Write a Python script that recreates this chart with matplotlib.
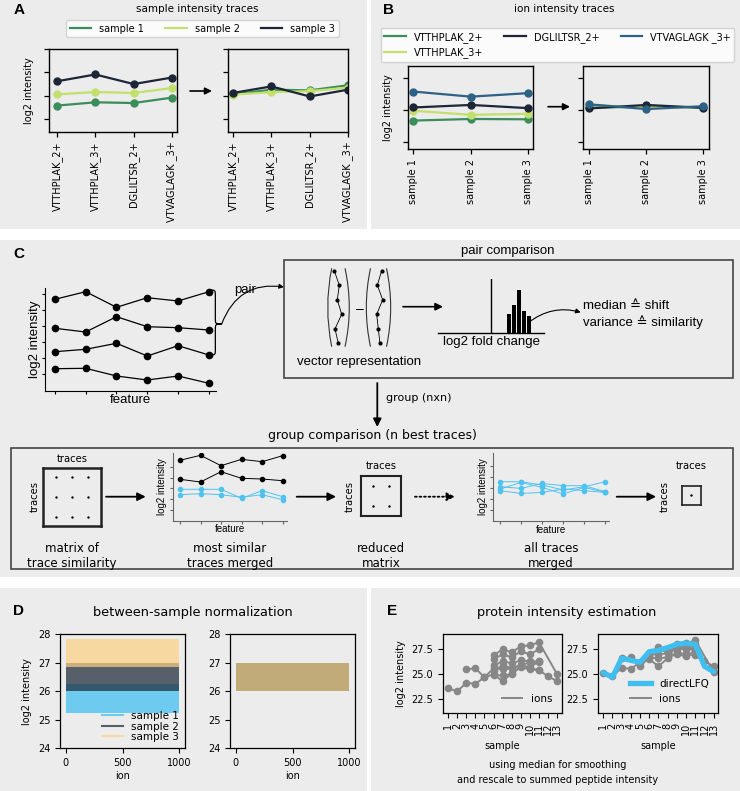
import numpy as np
import matplotlib
matplotlib.use("Agg")
import matplotlib.pyplot as plt
from matplotlib.patches import Rectangle, FancyArrowPatch, PathPatch
from matplotlib.path import Path
from matplotlib.lines import Line2D

# ---------------- data ----------------
peptides = ["VTTHPLAK_2+", "VTTHPLAK_3+", "DGLILTSR_2+", "VTVAGLAGK _3+"]
sample_names = ["sample 1", "sample 2", "sample 3"]

# Panel A (log2 intensity, arbitrary offset)
a_before_s1 = [0.58, 0.72, 0.69, 0.92]
a_before_s2 = [1.06, 1.16, 1.12, 1.33]
a_before_s3 = [1.62, 1.91, 1.50, 1.78]
a_after_s1 = [1.06, 1.26, 1.23, 1.45]
a_after_s2 = [1.05, 1.15, 1.20, 1.35]
a_after_s3 = [1.12, 1.40, 0.97, 1.26]

# Panel B
b_ions = ["VTTHPLAK_2+", "VTTHPLAK_3+", "DGLILTSR_2+", "VTVAGLAGK _3+"]
b_before_vtthplak2 = [0.66, 0.71, 0.70]
b_before_vtthplak3 = [0.97, 0.84, 0.875]
b_before_dglil = [1.07, 1.15, 1.05]
b_before_vtvag = [1.57, 1.41, 1.52]
b_after_vtthplak2 = [1.07, 1.09, 1.07]
b_after_vtthplak3 = [1.15, 1.07, 1.09]
b_after_dglil = [1.04, 1.15, 1.06]
b_after_vtvag = [1.17, 1.02, 1.11]

# Panel C schematic traces
c_trace_1 = [9.14, 9.90, 8.34, 9.30, 8.97, 9.90]
c_trace_2 = [6.24, 5.87, 7.40, 6.40, 6.30, 6.07]
c_trace_3 = [3.90, 4.14, 4.74, 3.47, 4.50, 3.57]
c_trace_4 = [2.20, 2.24, 1.47, 1.07, 1.47, 0.74]
vec_a = [0.3, 5.3, 3.3, 7.7, 1.0, 4.3]
vec_b = [2.7, -1.7, 3.7, -2.3, -0.7, 1.0]
fc_bins = [71, 76, 81, 86, 91]
fc_counts = [19, 28, 43, 22.6, 17]
fc_zero = 53
merged_black_1 = [6.07, 6.57, 5.53, 6.17, 5.93, 6.53]
merged_black_2 = [4.17, 3.90, 4.93, 4.27, 4.20, 4.03]
merged_blue_1 = [3.17, 3.17, 3.17, 2.27, 3.03, 2.43]
merged_blue_2 = [2.63, 2.73, 2.63, 2.37, 2.63, 2.13]
all_blue_1 = [3.90, 3.90, 3.57, 3.07, 3.40, 3.90]
all_blue_2 = [3.40, 3.23, 3.73, 3.50, 3.50, 2.90]
all_blue_3 = [3.17, 3.83, 3.33, 2.67, 3.33, 2.83]
all_blue_4 = [3.00, 2.73, 2.83, 3.17, 3.00, 2.83]
matrix_sizes = [3, 2, 1]

# Panel D (band of ion intensities per sample)
d_ion_range = [0, 999]
d_before_low = [25.25, 26.0, 26.85]
d_before_high = [26.25, 27.0, 27.85]
d_after_low = [26.0, 26.0, 26.0]
d_after_high = [27.0, 27.0, 27.0]

# Panel E
nan = np.nan
e_samples = list(range(1, 14))
e_ion_1 = [23.6, 23.3, 24.15, 24.05, 24.7, 25.0, 24.3, 25.1, 25.7, 25.5, 25.4, 24.8, 24.3]
e_ion_2 = [nan, nan, 25.5, 25.6, 24.7, 25.6, 25.5, 25.6, 25.9, 25.7, 26.3, nan, nan]
e_ion_3 = [nan, nan, nan, nan, nan, 26.9, 27.5, 27.2, 27.8, 27.9, 28.2, nan, 25.0]
e_ion_4 = [nan, nan, nan, nan, nan, 26.5, 27.0, 26.7, 27.3, 27.0, 27.5, nan, nan]
e_ion_5 = [nan, nan, nan, nan, nan, 25.9, 26.3, 26.1, 26.4, 26.3, 26.3, nan, nan]
e_ion_6 = [nan, nan, nan, nan, nan, 25.3, 25.9, 25.6, 25.9, 26.2, 26.2, nan, nan]
e_ion_7 = [nan, nan, nan, nan, nan, 24.9, 24.9, 25.0, 25.8, 25.6, 25.4, nan, nan]
e_ion_shift = [1.5, 1.1, 0.2, 0.5, 1.2, 1.6, 2.1]
e_directlfq = [25.16, 24.7, 26.6, 26.4, 26.2, 27.26, 27.4, 27.67, 28.0, 28.1, 28.0, 25.8, 25.26]

# ---------------- style ----------------
W, H = 740, 791
BG = "#ececec"
DV = ["DejaVu Sans"]
LS = ["Liberation Sans", "DejaVu Sans"]
C_S1, C_S2, C_S3, C_BLUE = "#3b8d5b", "#c3df6c", "#1c2636", "#2d6185"
CYAN = "#4fc3f0"

fig = plt.figure(figsize=(W / 100, H / 100), dpi=100)
fig.patch.set_facecolor("white")


def px_axes(x0, y0, x1, y1, z=1):
    ax = fig.add_axes([x0 / W, 1 - y1 / H, (x1 - x0) / W, (y1 - y0) / H], zorder=z)
    ax.set_facecolor("none")
    return ax


bg = px_axes(0, 0, W, H, z=-10)
bg.set_xlim(0, W); bg.set_ylim(H, 0); bg.axis("off")
for (x0, y0, x1, y1) in [(0, 0, 367, 229), (371, 0, 740, 229), (0, 240, 740, 577),
                         (0, 588, 367, 791), (371, 588, 740, 791)]:
    bg.add_patch(Rectangle((x0, y0), x1 - x0, y1 - y0, facecolor=BG, edgecolor="none"))

ov = px_axes(0, 0, W, H, z=50)
ov.set_xlim(0, W); ov.set_ylim(H, 0); ov.axis("off")


def T(x, y, s, size=8, ha="center", va="center", family=DV, **kw):
    ov.text(x, y, s, fontsize=size, ha=ha, va=va, family=family, **kw)


def arrow(x0, y0, x1, y1, lw=1.3, ms=11, ls="-", rad=0.0, style="-|>"):
    p = FancyArrowPatch((x0, y0), (x1, y1), arrowstyle=style, mutation_scale=ms,
                        lw=lw, color="black", linestyle=ls, shrinkA=0, shrinkB=0,
                        connectionstyle=f"arc3,rad={rad}")
    ov.add_patch(p)


# panel letters
for (x, y, s) in [(19, 10, "A"), (388, 10, "B"), (19, 254, "C"), (19, 611, "D"), (392, 611, "E")]:
    T(x, y, s, size=11, family=LS, fontweight="bold")

# ---------------- Panel A ----------------
T(197, 9, "sample intensity traces", size=7.5)


def style_ab(ax):
    for s in ax.spines.values():
        s.set_linewidth(1.0); s.set_color("black")
    ax.tick_params(axis="both", length=3.5, width=0.9, labelsize=7)
    ax.set_yticklabels([])


axA1 = px_axes(49, 49, 177, 132)
axA2 = px_axes(228, 49, 348, 132)
xa = np.arange(len(peptides))
for ax, s1, s2, s3, xl in [(axA1, a_before_s1, a_before_s2, a_before_s3, (-0.21, 3.13)),
                           (axA2, a_after_s1, a_after_s2, a_after_s3, (-0.13, 3.0))]:
    ax.plot(xa, s1, "-o", color=C_S1, lw=1.6, ms=5)
    ax.plot(xa, s2, "-o", color=C_S2, lw=1.6, ms=5)
    ax.plot(xa, s3, "-o", color=C_S3, lw=1.6, ms=5)
    ax.set_xlim(*xl); ax.set_ylim(-0.55, 3.0)
    ax.set_yticks([0, 1, 2, 3])
    ax.set_xticks(xa); ax.set_xticklabels(peptides, rotation=90, fontsize=7)
    style_ab(ax)
axA1.set_ylabel("log2 intensity", fontsize=7)
arrow(190, 91, 212, 91, lw=1.2, ms=10)
hA = [Line2D([], [], color=c, lw=1.6) for c in (C_S1, C_S2, C_S3)]
fig.legend(hA, sample_names, loc="center", bbox_to_anchor=(202.5 / W, 1 - 28.5 / H),
           ncol=3, fontsize=7, handlelength=2.2, columnspacing=2.2, borderpad=0.4)

# ---------------- Panel B ----------------
T(564, 9, "ion intensity traces", size=7.5)
axB1 = px_axes(408, 66, 533, 149)
axB2 = px_axes(583, 66, 709, 149)
xb = np.arange(len(sample_names))
for ax, v1, v2, v3, v4, xl in [
        (axB1, b_before_vtthplak2, b_before_vtthplak3, b_before_dglil, b_before_vtvag, (-0.09, 2.08)),
        (axB2, b_after_vtthplak2, b_after_vtthplak3, b_after_dglil, b_after_vtvag, (-0.11, 2.1))]:
    ax.plot(xb, v1, "-o", color=C_S1, lw=1.6, ms=5)
    ax.plot(xb, v2, "-o", color=C_S2, lw=1.6, ms=5)
    ax.plot(xb, v3, "-o", color=C_S3, lw=1.6, ms=5)
    ax.plot(xb, v4, "-o", color=C_BLUE, lw=1.6, ms=5)
    ax.set_xlim(*xl); ax.set_ylim(-0.23, 2.37)
    ax.set_yticks([0, 1, 2])
    ax.set_xticks(xb); ax.set_xticklabels(sample_names, rotation=90, fontsize=7)
    style_ab(ax)
axB1.set_ylabel("log2 intensity", fontsize=7)
arrow(548, 106.7, 570, 106.7, lw=1.2, ms=10)
hB = [Line2D([], [], color=c, lw=1.6) for c in (C_S1, C_S2, C_S3, C_BLUE)]
fig.legend(hB, b_ions, loc="center", bbox_to_anchor=(557.5 / W, 1 - 45 / H),
           ncol=3, fontsize=7, handlelength=2.2, columnspacing=2.2, borderpad=0.4)

# ---------------- Panel C ----------------
def mini_style(ax, color="black", lw=0.8, tl=2.5):
    ax.spines["top"].set_visible(False); ax.spines["right"].set_visible(False)
    for s in ("left", "bottom"):
        ax.spines[s].set_color(color); ax.spines[s].set_linewidth(lw)
    ax.tick_params(length=tl, width=lw, color=color, labelleft=False, labelbottom=False)


axC = px_axes(44.7, 288, 216, 390.7)
xc = np.arange(6)
for tr in (c_trace_1, c_trace_2, c_trace_3, c_trace_4):
    axC.plot(xc, tr, "-o", color="black", lw=0.9, ms=4.5)
axC.set_xlim(-0.33, 5.23); axC.set_ylim(0, 10.27)
axC.set_xticks(xc); axC.set_yticks([1.7, 3.3, 4.9, 6.5, 8.1, 9.7])
mini_style(axC)
axC.set_ylabel("log2 intensity", fontsize=9.5, family=LS, labelpad=0.5)
axC.set_xlabel("feature", fontsize=9.5, family=LS, labelpad=0)

# brace
bx, by0, by1, bw, bt, r = 209, 290, 355, 12.7, 324, 6
verts = [(bx, by0), (bx + bw / 2, by0), (bx + bw / 2, by0), (bx + bw / 2, by0 + r),
         (bx + bw / 2, bt - r),
         (bx + bw / 2, bt), (bx + bw / 2, bt), (bx + bw, bt),
         (bx + bw / 2, bt), (bx + bw / 2, bt), (bx + bw / 2, bt + r),
         (bx + bw / 2, by1 - r),
         (bx + bw / 2, by1), (bx + bw / 2, by1), (bx, by1)]
codes = [Path.MOVETO, Path.CURVE4, Path.CURVE4, Path.CURVE4, Path.LINETO,
         Path.CURVE4, Path.CURVE4, Path.CURVE4, Path.CURVE4, Path.CURVE4, Path.CURVE4,
         Path.LINETO, Path.CURVE4, Path.CURVE4, Path.CURVE4]
ov.add_patch(PathPatch(Path(verts, codes), facecolor="none", edgecolor="black", lw=0.9))
arrow(221.7, 324, 284, 287, lw=0.8, ms=7, rad=-0.4)
T(245.5, 290, "pair", size=9.5, family=LS)

# pair comparison box
ov.add_patch(Rectangle((284, 260), 733 - 284, 377.7 - 260, facecolor="none",
                       edgecolor="#444444", lw=1.2))
T(508, 250.7, "pair comparison", size=9.5, family=LS)

vidx = np.arange(6)
axV1 = px_axes(326, 266, 350, 348)
axV1.plot(vec_a, vidx, "-o", color="black", lw=0.6, ms=2)
axV1.set_xlim(-8, 16); axV1.set_ylim(5.32, -0.324); axV1.axis("off")
axV2 = px_axes(367, 266, 391, 348)
axV2.plot(vec_b, vidx, "-o", color="black", lw=0.6, ms=2)
axV2.set_xlim(-12, 12); axV2.set_ylim(5.32, -0.324); axV2.axis("off")


def paren(xe, xm, y0, y1):
    pth = Path([(xe, y0), (2 * xm - xe, (y0 + y1) / 2), (xe, y1)],
               [Path.MOVETO, Path.CURVE3, Path.CURVE3])
    ov.add_patch(PathPatch(pth, facecolor="none", edgecolor="#333333", lw=0.8))


paren(331.7, 327.7, 268.3, 346.7)
paren(345.0, 349.3, 268.3, 346.7)
paren(370.5, 366.3, 268.3, 346.7)
paren(386.5, 390.7, 268.3, 346.7)
T(359.5, 309, "–", size=10, family=LS)
T(359, 361.7, "vector representation", size=9.5, family=LS)
arrow(403, 306.7, 443, 306.7, lw=1.2, ms=11)

axH = px_axes(438, 279, 544, 333.3)
axH.bar(fc_bins, fc_counts, width=3.4, color="black")
axH.axvline(fc_zero, color="black", lw=1.0)
axH.set_xlim(0, 106); axH.set_ylim(0, 54.3)
for s in ("top", "right", "left"):
    axH.spines[s].set_visible(False)
axH.spines["bottom"].set_linewidth(1.0)
axH.set_xticks([]); axH.set_yticks([])
T(491.7, 342.3, "log2 fold change", size=9.5, family=LS)
arrow(528.3, 322.7, 580.7, 312.3, lw=0.8, ms=7, rad=-0.25)
T(583, 306, "median ≙ shift", size=9.5, family=LS, ha="left")
T(583, 322.3, "variance ≙ similarity", size=9.5, family=LS, ha="left")

# group arrow
arrow(377.3, 383, 377.3, 427, lw=1.3, ms=12)
T(386, 398.3, "group (nxn)", size=8, ha="left")
T(372, 435.7, "group comparison (n best traces)", size=9)
ov.add_patch(Rectangle((11, 447.7), 733 - 11, 569 - 447.7, facecolor="none",
                       edgecolor="#444444", lw=1.2))


def matrix_box(x0, y0, x1, y1, n, xl, yl, lw):
    ax = px_axes(x0, y0, x1, y1)
    gx, gy = np.meshgrid(np.arange(n), np.arange(n))
    ax.scatter(gx.ravel(), gy.ravel(), s=3, color="black", lw=0)
    ax.set_xlim(*xl); ax.set_ylim(*yl)
    ax.set_xticks([]); ax.set_yticks([])
    for s in ax.spines.values():
        s.set_linewidth(lw); s.set_color("#222222")
    return ax


matrix_box(43.3, 467.7, 101, 525.7, matrix_sizes[0], (-0.78, 2.78), (2.43, -0.45), 1.8)
T(72.3, 459.3, "traces", size=7.2)
T(34.3, 497, "traces", size=7.2, rotation=90)
T(72, 548.3, "matrix of", size=8.5)
T(72, 563.5, "trace similarity", size=8.5)
arrow(106, 496.7, 145.7, 496.7, lw=1.3, ms=12)

axM2 = px_axes(173, 453, 286.7, 521)
for tr in (merged_black_1, merged_black_2):
    axM2.plot(xc, tr, "-o", color="black", lw=0.7, ms=3)
for tr in (merged_blue_1, merged_blue_2):
    axM2.plot(xc, tr, "-o", color=CYAN, lw=0.7, ms=3)
axM2.set_xlim(-0.34, 5.2); axM2.set_ylim(0, 6.8)
axM2.set_xticks(xc); axM2.set_yticks([1.1, 2.17, 3.27, 4.33, 5.43])
mini_style(axM2, color="#666666", lw=0.8, tl=2)
axM2.set_ylabel("log2 intensity", fontsize=7, family=LS, labelpad=2.5)
axM2.set_xlabel("feature", fontsize=7, family=LS, labelpad=0.5)
T(230, 548.3, "most similar", size=8.5)
T(230, 563.5, "traces merged", size=8.5)
arrow(296.7, 496.7, 336, 496.7, lw=1.3, ms=12)

matrix_box(360.7, 475.7, 401, 515.7, matrix_sizes[1], (-0.79, 1.73), (1.485, -0.515), 1.5)
T(381, 466.3, "traces", size=7.2)
T(350, 497, "traces", size=7.2, rotation=90)
T(381, 548.3, "reduced", size=8.5)
T(381, 563.5, "matrix", size=8.5)
arrow(415, 496.7, 455, 496.7, lw=1.3, ms=12, ls=(0, (1, 1.5)))

axM3 = px_axes(493.3, 453.3, 609.3, 520.7)
for tr in (all_blue_1, all_blue_2, all_blue_3, all_blue_4):
    axM3.plot(xc, tr, "-o", color=CYAN, lw=0.7, ms=3)
axM3.set_xlim(-0.32, 5.19); axM3.set_ylim(0, 6.74)
axM3.set_xticks(xc); axM3.set_yticks([1.1, 2.2, 3.3, 4.4, 5.5])
mini_style(axM3, color="#666666", lw=0.8, tl=2)
axM3.set_ylabel("log2 intensity", fontsize=7, family=LS, labelpad=1.5)
axM3.set_xlabel("feature", fontsize=7, family=LS, labelpad=1.0)
T(551, 548.3, "all traces", size=8.5)
T(551, 563.5, "merged", size=8.5)
arrow(616.7, 496.7, 656, 496.7, lw=1.3, ms=12)

matrix_box(681.7, 485.7, 701, 504.7, matrix_sizes[2], (-0.5, 0.5), (0.5, -0.5), 1.2)
T(691.7, 466.3, "traces", size=7.2)
T(664.3, 496.7, "traces", size=7.2, rotation=90)

# ---------------- Panel D ----------------
T(192.7, 612.3, "between-sample normalization", size=9.3)
D_COLORS = ["#56c6f0", "#1e2a38", "#fdd080"]
D_ALPHA = [0.85, 0.72, 0.7]
axD1 = px_axes(60, 634.3, 185, 748.3)
axD2 = px_axes(230, 634.3, 355, 748.3)
for ax, lows, highs in [(axD1, d_before_low, d_before_high), (axD2, d_after_low, d_after_high)]:
    for lo, hi, c, a in zip(lows, highs, D_COLORS, D_ALPHA):
        ax.fill_between(d_ion_range, [lo, lo], [hi, hi], color=c, alpha=a, lw=0)
    ax.set_xlim(-50, 1049); ax.set_ylim(24, 28)
    ax.set_yticks([24, 25, 26, 27, 28]); ax.set_xticks([0, 500, 1000])
    ax.tick_params(labelsize=7, length=3.5, width=0.8)
    for s in ax.spines.values():
        s.set_linewidth(0.9)
    ax.set_xlabel("ion", fontsize=7, labelpad=2)
axD1.set_ylabel("log2 intensity", fontsize=7)
hD = [Line2D([], [], color=c, alpha=a, lw=1.5) for c, a in zip(D_COLORS, D_ALPHA)]
axD1.legend(hD, sample_names, loc="lower right", fontsize=7.5, frameon=False,
            labelspacing=0.05, borderpad=0.1, handlelength=2.0, handletextpad=0.8)

# ---------------- Panel E ----------------
T(566.7, 612.3, "protein intensity estimation", size=9.3)
GRAY = "#878787"
e_ions = [e_ion_1, e_ion_2, e_ion_3, e_ion_4, e_ion_5, e_ion_6, e_ion_7]
xs = np.array(e_samples)
axE1 = px_axes(442.7, 634, 561.7, 713.3)
axE2 = px_axes(597.7, 634, 718.3, 713.3)
for ion in e_ions:
    v = np.array(ion); m = ~np.isnan(v)
    axE1.plot(xs[m], v[m], "-o", color=GRAY, lw=1.4, ms=4.5)
for ion, sh in zip(e_ions, e_ion_shift):
    v = np.array(ion) + sh; m = ~np.isnan(v)
    axE2.plot(xs[m], v[m], "-o", color=GRAY, lw=1.4, ms=4.5)
axE2.plot(xs, e_directlfq, color="#3ebff0", lw=3.8, solid_capstyle="round")
for ax in (axE1, axE2):
    ax.set_xlim(0.4, 13.5); ax.set_ylim(21.1, 29.03)
    ax.set_yticks([22.5, 25.0, 27.5])
    ax.set_xticks(xs); ax.set_xticklabels([str(s) for s in e_samples], rotation=90)
    ax.tick_params(labelsize=7, length=3.5, width=0.8)
    for s in ax.spines.values():
        s.set_linewidth(0.9)
    ax.set_xlabel("sample", fontsize=7)
axE1.set_ylabel("log2 intensity", fontsize=7)
axE1.legend([Line2D([], [], color=GRAY, lw=1.4)], ["ions"], loc="lower right",
            fontsize=7.5, frameon=False)
axE2.legend([Line2D([], [], color="#3ebff0", lw=3.8), Line2D([], [], color=GRAY, lw=1.4)],
            ["directLFQ", "ions"], loc="lower right", fontsize=7.5, frameon=False)
T(558, 765, "using median for smoothing", size=7)
T(558, 780, "and rescale to summed peptide intensity", size=7)

fig.savefig("out.png", dpi=100, facecolor="white")
